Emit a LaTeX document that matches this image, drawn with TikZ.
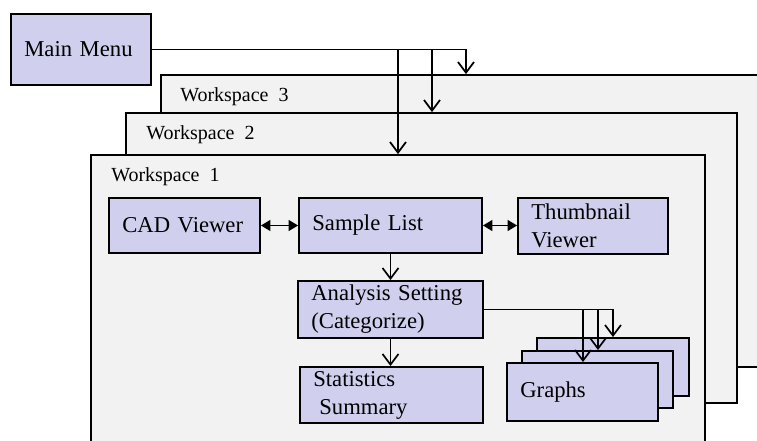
\documentclass[tikz,border=0pt]{standalone}
\usepackage{fontspec}
\setmainfont{Liberation Serif}
\usetikzlibrary{arrows.meta}

\definecolor{boxfill}{HTML}{D0D0EE}
\definecolor{wsfill}{HTML}{F2F2F2}

\tikzset{
  box/.style={draw, fill=boxfill, line width=1.4pt, align=left, inner xsep=10pt, inner ysep=0pt,
    font=\fontsize{17}{21}\selectfont},
  ws/.style={draw, fill=wsfill, line width=1.3pt, inner sep=0pt},
  wslabel/.style={anchor=base west, inner sep=0pt, font=\fontsize{15}{18}\selectfont},
  flow/.style={line width=1.3pt, -{Straight Barb[length=8pt,width=12pt,line width=1.3pt]}},
  dbl/.style={line width=1.3pt, {Triangle[length=7pt,width=8pt]}-{Triangle[length=7pt,width=8pt]}}
}

\begin{document}
\begin{tikzpicture}[x=0.75pt, y=-0.75pt]
  \useasboundingbox (0,0) rectangle (757,441);
  \clip (0,0) rectangle (757,441);
  % main menu
  \node[box, text width=85pt, minimum height=53.25pt] (menu) at (81,49.5) {Main Menu};
  % workspaces, back to front
  \node[ws, minimum width=479.25pt, minimum height=219pt] (ws3) at (480.5,221) {};
  \node[wslabel] (ws3lab) at (180,102) {Workspace~~3};
  \node[ws, minimum width=458.25pt, minimum height=217.5pt] (ws2) at (431.5,258) {};
  \node[wslabel] (ws2lab) at (146,140) {Workspace~~2};
  \node[ws, minimum width=460.5pt, minimum height=243.75pt] (ws1) at (398,317.5) {};
  \node[wslabel] (ws1lab) at (111,182) {Workspace~~1};
  % boxes of workspace 1
  \node[box, text width=93.25pt, minimum height=41.25pt] (cad) at (184.5,225.5) {CAD Viewer};
  \node[box, text width=117.25pt, minimum height=41.25pt] (list) at (390.5,225.5) {Sample List};
  \node[box, text width=92.5pt, minimum height=42pt] (thumb) at (593,226) {Thumbnail\\Viewer};
  \node[box, text width=118.75pt, minimum height=42.75pt] (anal) at (390.5,309.5) {Analysis Setting\\(Categorize)};
  \node[box, text width=117.25pt, minimum height=42pt] (stats) at (391.5,395) {Statistics\\\hspace*{4.5pt}Summary};
  \node[box, text width=94pt, minimum height=43.5pt] (g3) at (613,367) {};
  \node[box, text width=93.25pt, minimum height=42.75pt] (g2) at (597.5,379.5) {};
  \node[box, text width=93.25pt, minimum height=43.5pt] (g1) at (582.5,392) {Graphs};
  % connectors
  \draw[flow] (menu.east) -| (466,0 |- ws3.north);
  \draw[flow] (432,0 |- menu.east) -- (432,0 |- ws2.north);
  \draw[flow] (398,0 |- menu.east) -- (398,0 |- ws1.north);
  \draw[dbl] (cad.east) -- (cad.east -| list.west);
  \draw[dbl] (list.east) -- (list.east -| thumb.west);
  \draw[flow] (list.south) -- (list.south |- anal.north);
  \draw[flow] (anal.south) -- (anal.south |- stats.north);
  \draw[flow] (anal.east) -| (613,0 |- g3.north);
  \draw[flow] (598,0 |- anal.east) -- (598,0 |- g2.north);
  \draw[flow] (583,0 |- anal.east) -- (583,0 |- g1.north);
\end{tikzpicture}
\end{document}
